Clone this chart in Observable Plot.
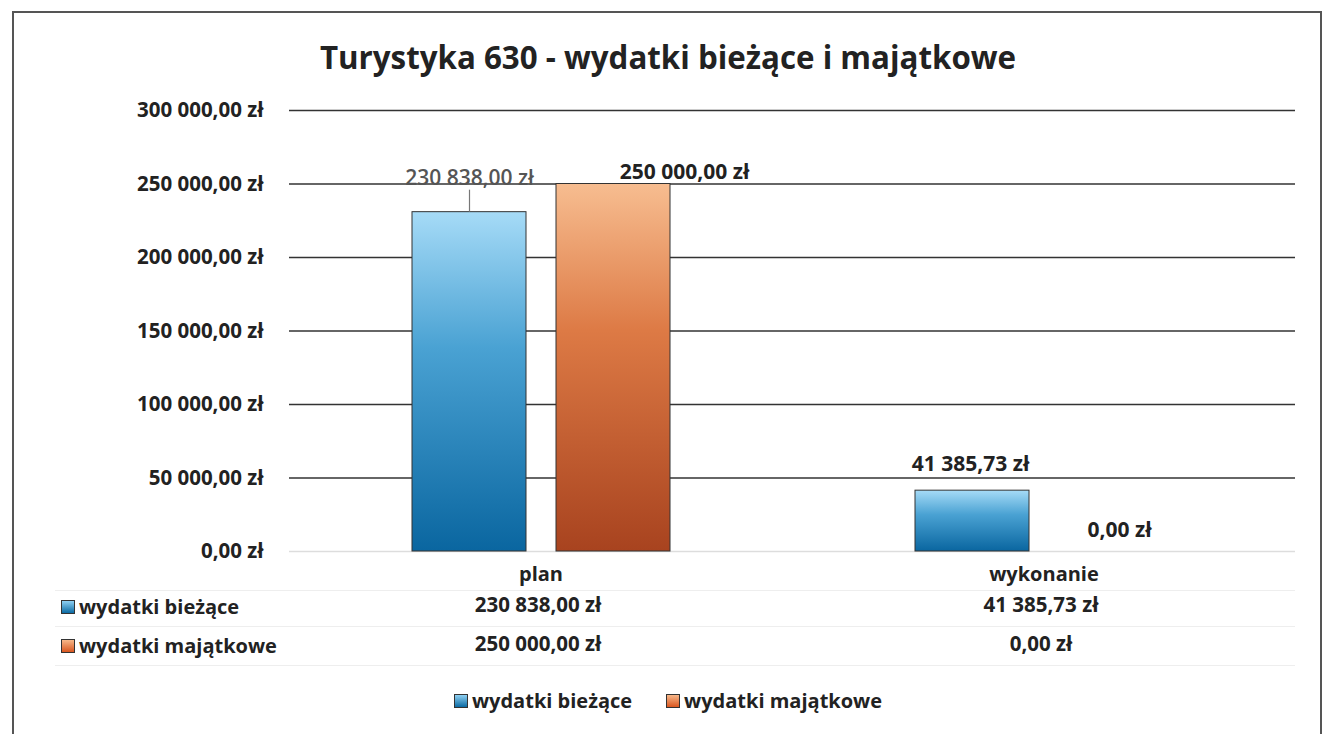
<!DOCTYPE html>
<html>
<head>
<meta charset="utf-8">
<script src="https://cdn.jsdelivr.net/npm/d3@7"></script>
<script src="https://cdn.jsdelivr.net/npm/@observablehq/plot@0.6"></script>
<style>
  html, body { margin: 0; padding: 0; background: #fff; }
  body { font-family: "Open Sans", sans-serif; color: #222; }
  #wrap { position: relative; width: 1326px; height: 734px; overflow: hidden; }
  #frame { position: absolute; left: 12px; top: 11px; width: 1310px; height: 740px; border: 2px solid #555; box-sizing: border-box; }
  #title { position: absolute; left: 0; top: 36px; width: 1336px; text-align: center; font-size: 31.3px; font-weight: 700; color: #222; }
  #chart { position: absolute; left: 0; top: 90px; }
  .row { position: absolute; left: 61px; font-size: 20px; font-weight: 700; display: flex; align-items: center; gap: 4px; color: #222; }
  .sw { width: 12px; height: 12px; border: 1px solid #333; display: inline-block; }
  .sw.b { background: linear-gradient(#8fd0f2, #0b6aa3); }
  .sw.o { background: linear-gradient(#f7b88a, #d9561f); }
  #legend { position: absolute; top: 687px; left: 0; width: 1336px; display: flex; justify-content: center; gap: 34px; font-size: 20px; font-weight: 700; color: #222; }
  #legend span.item { display: flex; align-items: center; gap: 4px; }
  .tline { position: absolute; background: #eee; }
</style>
</head>
<body>
<div id="wrap">
  <div id="frame"></div>
  <div id="title">Turystyka 630 - wydatki bieżące i majątkowe</div>
  <div class="tline" style="left:55px; top:590px; width:1240px; height:1px;"></div>
  <div class="tline" style="left:55px; top:626px; width:1240px; height:1px;"></div>
  <div class="tline" style="left:55px; top:665px; width:1240px; height:1px;"></div>
  <div id="chart"></div>
  <div id="rows"></div>
  <div id="legend"></div>
</div>
<script>
// ---- data ----
const categories = ["plan", "wykonanie"];
const seriesNames = ["wydatki bieżące", "wydatki majątkowe"];
const biezace = [230838.00, 41385.73];
const majatkowe = [250000.00, 0.00];
const yTicks = [0, 50000, 100000, 150000, 200000, 250000, 300000];

const data = categories.flatMap((c, i) => [
  {category: c, series: seriesNames[0], value: biezace[i]},
  {category: c, series: seriesNames[1], value: majatkowe[i]}
]);

const locale = d3.formatLocale({decimal: ",", thousands: "\u00a0", grouping: [3], currency: ["", "\u00a0zł"]});
const fmt = locale.format("$,.2f");

const isB = d => d.series === seriesNames[0];
const isO = d => d.series === seriesNames[1];
const pick = (c, s) => d => d.category === c && d.series === s;

const labelStyle = {fx: "category", x: "series", y: "value", text: d => fmt(d.value), fontSize: 21, fontWeight: "bold", fill: "#222"};

const plot = Plot.plot({
  width: 1326,
  height: 590,
  marginLeft: 288,
  marginRight: 31,
  marginTop: 20,
  marginBottom: 129,
  style: {fontFamily: "Open Sans", background: "transparent", overflow: "visible", color: "#222"},
  fx: {domain: categories, padding: 0},
  x: {domain: seriesNames, paddingInner: 0.21, paddingOuter: 0.85, axis: null},
  y: {domain: [0, 300000]},
  marks: [
    Plot.ruleY([0], {stroke: "#ddd", strokeWidth: 1.5}),
    Plot.ruleY(yTicks.filter(t => t > 0), {stroke: "#333", strokeWidth: 1.6}),
    Plot.axisY({ticks: yTicks, tickFormat: fmt, tickSize: 0, tickPadding: 26, fontSize: 20.5, fontWeight: "bold", label: null}),
    Plot.axisFx({anchor: "bottom", tickSize: 0, tickPadding: 15, fontSize: 20, fontWeight: "bold", label: null}),
    Plot.barY(data, {filter: isB, fx: "category", x: "series", y: "value", fill: "url(#gradB)", stroke: "#333", strokeWidth: 1}),
    Plot.barY(data, {filter: isO, fx: "category", x: "series", y: "value", fill: "url(#gradO)", stroke: "#333", strokeWidth: 1}),
    // leader line for moved label
    Plot.ruleX(data, {filter: pick("plan", seriesNames[0]), fx: "category", x: "series", y1: "value", y2: "value", insetBottom: 22, stroke: "#777", strokeWidth: 1.2}),
    Plot.text(data, {...labelStyle, filter: pick("plan", seriesNames[0]), dy: -34, fill: "#555", fontWeight: 600}),
    Plot.text(data, {...labelStyle, filter: pick("plan", seriesNames[1]), dx: 71, dy: -12}),
    Plot.text(data, {...labelStyle, filter: pick("wykonanie", seriesNames[0]), dx: -2, dy: -26}),
    Plot.text(data, {...labelStyle, filter: pick("wykonanie", seriesNames[1]), dx: 3, dy: -21}),
    // data table values
    Plot.text(data, {filter: isB, fx: "category", frameAnchor: "bottom", dx: -3, dy: 60, text: d => fmt(d.value), fontSize: 20.5, fontWeight: "bold", fill: "#222"}),
    Plot.text(data, {filter: isO, fx: "category", frameAnchor: "bottom", dx: -3, dy: 99, text: d => fmt(d.value), fontSize: 20.5, fontWeight: "bold", fill: "#222"})
  ]
});

const svgSel = d3.select(plot);
const defs = svgSel.insert("defs", ":first-child");
function grad(id, stops) {
  const g = defs.append("linearGradient").attr("id", id).attr("x1", 0).attr("y1", 0).attr("x2", 0).attr("y2", 1);
  stops.forEach(([o, c]) => g.append("stop").attr("offset", o).attr("stop-color", c));
}
grad("gradB", [[0, "#a6dbf7"], [0.4, "#4aa2d3"], [1, "#0a66a0"]]);
grad("gradO", [[0, "#f7bd90"], [0.4, "#dd7a45"], [1, "#a8431f"]]);

document.getElementById("chart").appendChild(plot);

// table row labels
const rows = document.getElementById("rows");
[[seriesNames[0], "b", 593], [seriesNames[1], "o", 632]].forEach(([name, cls, top]) => {
  const r = document.createElement("div");
  r.className = "row";
  r.style.top = top + "px";
  r.innerHTML = `<span class="sw ${cls}"></span><span>${name}</span>`;
  rows.appendChild(r);
});

// legend
const legend = document.getElementById("legend");
seriesNames.forEach((name, i) => {
  const it = document.createElement("span");
  it.className = "item";
  it.innerHTML = `<span class="sw ${i === 0 ? "b" : "o"}"></span><span>${name}</span>`;
  legend.appendChild(it);
});
</script>
</body>
</html>
